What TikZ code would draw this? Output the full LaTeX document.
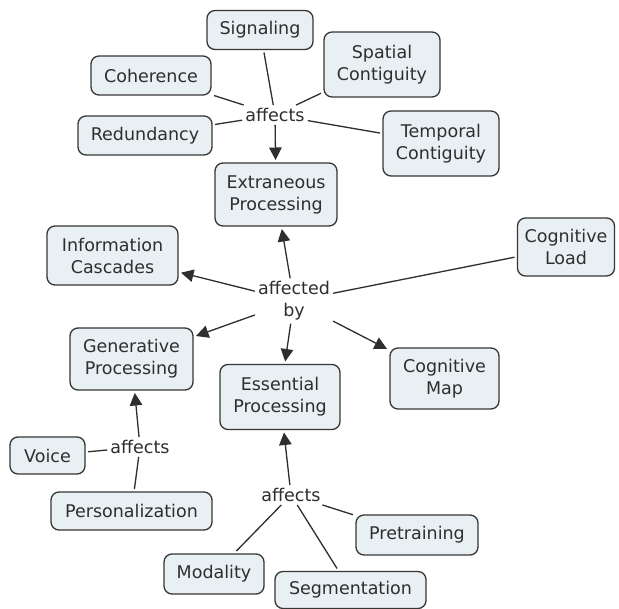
\documentclass[tikz,border=0pt]{standalone}
\usepackage{fontspec}
\setmainfont{DejaVu Sans}
\usetikzlibrary{arrows.meta}
\definecolor{boxfill}{HTML}{E9F0F3}
\definecolor{boxline}{HTML}{363636}
\definecolor{ink}{HTML}{2E2E2E}
\begin{document}
\begin{tikzpicture}[x=1pt,y=-1pt,
  concept/.style={draw=boxline, line width=1.3pt, fill=boxfill, rounded corners=8pt,
    text=ink, align=center, inner sep=2pt, outer sep=3pt,
    font=\fontsize{17.5}{22}\selectfont},
  single/.style={concept, minimum height=39pt},
  double/.style={concept, minimum height=63pt},
  linker/.style={text=ink, align=center, inner sep=3pt, fill=white,
    font=\fontsize{17.5}{22}\selectfont},
  link/.style={draw=ink, line width=1.3pt},
  arrowlink/.style={link, -{Triangle[length=12.5pt,width=12.5pt]}}
]
\useasboundingbox[fill=white] (0,0) rectangle (619,609);

% concepts around Extraneous Processing
\node[single, minimum width=106pt] (signal) at (260,30) {Signaling};
\node[single, minimum width=120pt] (coher) at (151,75.5) {Coherence};
\node[double, minimum width=116pt, minimum height=65pt] (spatial) at (382,64.5) {Spatial\\Contiguity};
\node[single, minimum width=134pt] (redund) at (145,135.5) {Redundancy};
\node[double, minimum width=116pt, minimum height=65pt] (temporal) at (441,143.5) {Temporal\\Contiguity};
\node[double, minimum width=122pt] (extran) at (276,194.5) {Extraneous\\Processing};

% central concepts
\node[double, minimum width=131pt, minimum height=59pt] (cascade) at (112.5,255.5) {Information\\Cascades};
\node[double, minimum width=97pt, minimum height=58pt] (load) at (566,247) {Cognitive\\Load};
\node[double, minimum width=123pt, minimum height=62pt] (gener) at (131.5,359) {Generative\\Processing};
\node[double, minimum width=120pt, minimum height=65pt] (essent) at (280,397) {Essential\\Processing};
\node[double, minimum width=109pt, minimum height=61pt] (cmap) at (444.5,378.5) {Cognitive\\Map};

% lower concepts
\node[single, minimum width=75pt, minimum height=37pt] (voice) at (47.5,455.5) {Voice};
\node[single, minimum width=161pt, minimum height=38pt] (person) at (131.5,511) {Personalization};
\node[single, minimum width=122pt, minimum height=40pt] (pretrain) at (417,535) {Pretraining};
\node[single, minimum width=100pt, minimum height=40pt] (modal) at (214,574) {Modality};
\node[single, minimum width=151pt, minimum height=37pt] (segment) at (350.5,590) {Segmentation};

% linking phrases
\node[linker] (aff1) at (275,115) {affects};
\node[linker] (affby) at (294,301) {affected\\by};
\node[linker] (aff2) at (140,447) {affects};
\node[linker] (aff3) at (291,495) {affects};

% connectors of the upper cluster
\draw[link] (signal) -- (aff1);
\draw[link] (coher) -- (aff1);
\draw[link] (redund) -- (aff1);
\draw[link] (spatial) -- (aff1);
\draw[link] (temporal) -- (aff1);
\draw[arrowlink] (aff1) -- (extran);

% connectors of the central cluster
\draw[arrowlink] (affby) -- (extran);
\draw[arrowlink] (affby) -- (cascade);
\draw[link] (load) -- (affby);
\draw[arrowlink] (affby) -- (gener);
\draw[arrowlink] (affby) -- (essent);
\draw[arrowlink] (affby) -- (cmap);

% connectors of the left cluster
\draw[link] (voice) -- (aff2);
\draw[link] (person) -- (aff2);
\draw[arrowlink] (aff2) -- (gener);

% connectors of the bottom cluster
\draw[link] (modal) -- (aff3);
\draw[link] (segment) -- (aff3);
\draw[link] (pretrain) -- (aff3);
\draw[arrowlink] (aff3) -- (essent);
\end{tikzpicture}
\end{document}
